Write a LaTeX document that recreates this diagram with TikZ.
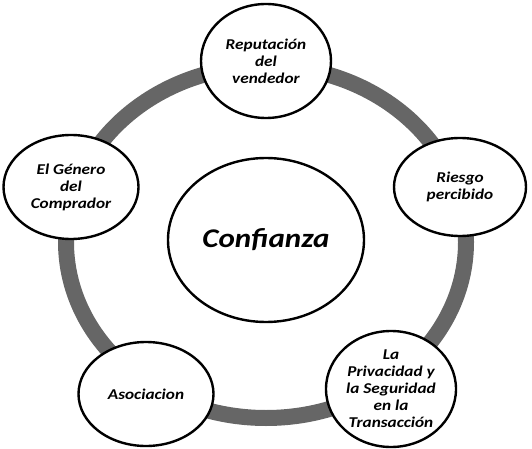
\documentclass[tikz,border=0pt]{standalone}
\usepackage{fontspec}
\setmainfont{Carlito}[FakeStretch=1.15]
\usetikzlibrary{shapes.geometric}
\definecolor{ringgray}{RGB}{102,102,102}
\begin{document}
\begin{tikzpicture}[x=1pt,y=1pt,
  factor/.style={ellipse, draw, line width=2.4pt, fill=white, align=center, inner sep=0pt,
    font=\bfseries\itshape\fontsize{15}{17}\selectfont}]
\useasboundingbox (0,0) rectangle (532,-449);

% anillo
\draw[ringgray, line width=16pt] (266,-242) ellipse [x radius=200pt, y radius=176pt];

\node[factor, minimum width=196pt, minimum height=164pt, font=\bfseries\itshape\fontsize{27}{30}\selectfont] (conf) at (266,-240) {Confianza};

\node[factor, minimum width=130pt, minimum height=114pt] (rep) at (266,-61) {Reputación\\del\\vendedor};
\node[factor, minimum width=135pt, minimum height=104pt] (gen) at (71,-187) {El Género\\del\\Comprador};
\node[factor, minimum width=132pt, minimum height=98pt] (ries) at (460,-187) {Riesgo\\percibido};
\node[factor, minimum width=130pt, minimum height=116pt] (priv) at (391,-389) {La\\Privacidad y\\la Seguridad\\en la\\Transacción};
\node[factor, minimum width=135pt, minimum height=104pt] (aso) at (146,-394) {Asociacion};

\end{tikzpicture}
\end{document}
